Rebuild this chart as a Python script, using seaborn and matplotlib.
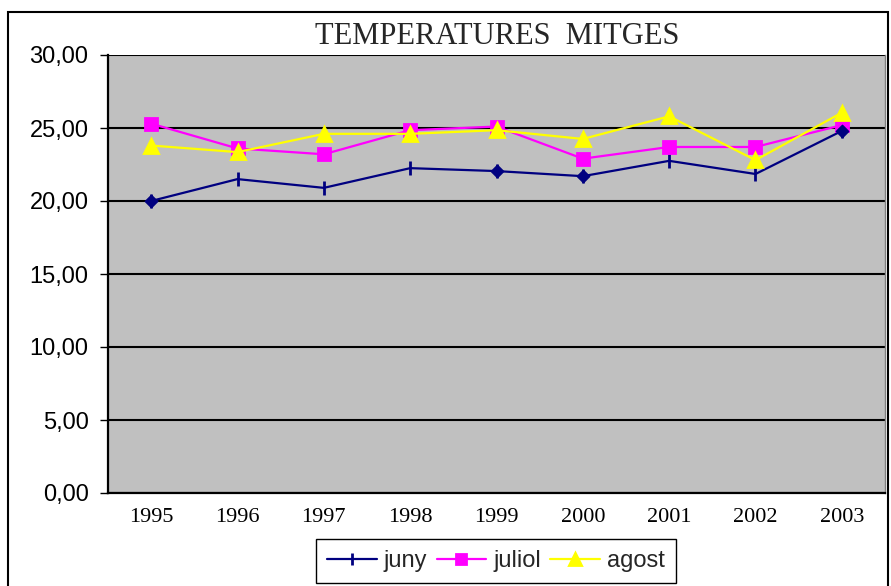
import pandas as pd
import matplotlib
matplotlib.use("Agg")
import matplotlib.pyplot as plt
import seaborn as sns
from matplotlib.patches import Rectangle
from matplotlib.lines import Line2D
from matplotlib.ticker import FuncFormatter

years = ["1995", "1996", "1997", "1998", "1999", "2000", "2001", "2002", "2003"]
juny = [20.0, 21.5, 20.9, 22.25, 22.05, 21.7, 22.75, 21.85, 24.8]
juliol = [25.3, 23.6, 23.2, 24.85, 25.1, 22.9, 23.7, 23.7, 25.2]
agost = [23.8, 23.35, 24.6, 24.6, 24.85, 24.25, 25.8, 22.8, 26.05]
# points where the juny series is drawn with a diamond instead of a tick
juny_diamonds = ["1995", "1999", "2000", "2003"]

series = {"juny": juny, "juliol": juliol, "agost": agost}
colors = {"juny": "#000080", "juliol": "#FF00FF", "agost": "#FFFF00"}
markers = {"juny": "|", "juliol": "s", "agost": "^"}
msizes = {"juny": 10, "juliol": 8.5, "agost": 10}

sns.set_style("white")
plt.rcParams["font.family"] = ["Liberation Sans", "DejaVu Sans"]

fig = plt.figure(figsize=(8.91, 5.86), dpi=100)
ax = fig.add_axes([108 / 891, 1 - 493 / 586, 777 / 891, 438 / 586])
ax.set_facecolor("#C0C0C0")

for m, vals in series.items():
    d = pd.DataFrame({"any": years, "temp": vals})
    sns.lineplot(data=d, x="any", y="temp", color=colors[m], marker=markers[m],
                 markersize=msizes[m], markeredgewidth=2,
                 markeredgecolor=colors[m], markerfacecolor=colors[m],
                 linewidth=1.6, sort=False, ax=ax, zorder=3)

dia = pd.DataFrame({"any": years, "temp": juny})
dia = dia[dia["any"].isin(juny_diamonds)]
ax.scatter(dia["any"], dia["temp"], marker="D", s=40, color=colors["juny"],
           zorder=4)

ax.set_xlim(-0.5, 8.5)
ax.set_ylim(0, 30)
ax.set_yticks(range(0, 31, 5))
ax.yaxis.set_major_formatter(FuncFormatter(lambda v, p: f"{v:.2f}".replace(".", ",")))
ax.yaxis.grid(True, color="black", linewidth=1.5, zorder=1)
ax.set_axisbelow(True)
ax.set_xlabel("")
ax.set_ylabel("")
ax.tick_params(axis="y", labelsize=17, length=6, width=1, color="black",
               labelcolor="black", left=True, pad=8)
ax.tick_params(axis="x", labelsize=16, length=0, pad=11, labelcolor="black")
for lab in ax.get_xticklabels():
    lab.set_family("Liberation Serif")
for side in ["left", "bottom"]:
    ax.spines[side].set_color("black")
    ax.spines[side].set_linewidth(1.6)
ax.spines["top"].set_visible(False)
ax.spines["right"].set_color("#808080")
ax.spines["right"].set_linewidth(1)

fig.text(0.5 * (312 + 683) / 891, 1 - 37 / 586, "TEMPERATURES  MITGES",
         ha="center", va="center", fontsize=22, family="Liberation Serif")

handles = [Line2D([], [], color=colors[m], marker=markers[m],
                  markersize=msizes[m] * 0.85, markeredgewidth=2,
                  linewidth=1.6) for m in series]
fig.legend(handles, list(series), loc="center",
           bbox_to_anchor=(496 / 891, 1 - 561 / 586), ncol=3, fontsize=17,
           frameon=True, fancybox=False, edgecolor="black", framealpha=1,
           handlelength=2.1, handletextpad=0.3, columnspacing=0.4,
           borderpad=0.45, borderaxespad=0)

fig.patches.append(Rectangle((8 / 891, -0.01), 880 / 891, 1 - 12 / 586 + 0.01,
                             transform=fig.transFigure, fill=False,
                             edgecolor="black", linewidth=1.5))

fig.savefig("out.png", dpi=100)
